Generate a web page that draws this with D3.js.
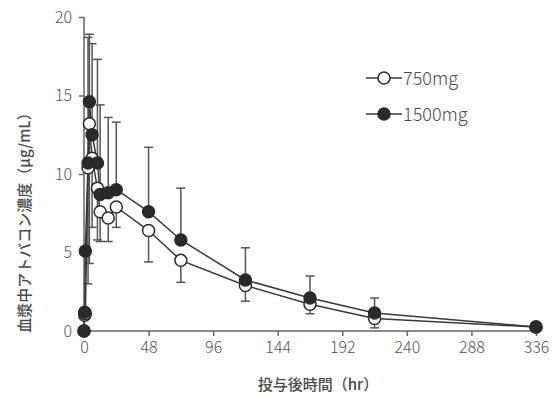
<!DOCTYPE html>
<html>
<head>
<meta charset="utf-8">
<script src="https://cdn.jsdelivr.net/npm/d3@7"></script>
<style>
body { margin: 0; background: #fff; }
text { font-family: "Noto Sans CJK JP", "Noto Sans", sans-serif; fill: #4a4a4a; }
</style>
</head>
<body>
<div class="chart"></div>
<script>
// sampling times (hr) and mean concentrations (µg/mL)
var hours750 = [0, 0.5, 1, 3, 4, 6, 10, 12, 18, 24, 48, 72, 120, 168, 216, 336];
var mean750  = [0, 1.0, 1.1, 10.4, 13.2, 11.0, 9.1, 7.6, 7.2, 7.9, 6.4, 4.5, 2.9, 1.7, 0.8, 0.25];
var sdLow750 = [0, 0.9, 1.0, 3.0, 4.3, 6.6, 5.8, 5.7, 5.7, 6.6, 4.4, 3.1, 1.9, 1.1, 0.2, 0.2];

var hours1500 = [0, 0.5, 1, 3, 4, 6, 10, 12, 18, 24, 48, 72, 120, 168, 216, 336];
var mean1500  = [0, 1.2, 5.1, 10.7, 14.6, 12.5, 10.7, 8.7, 8.8, 9.0, 7.6, 5.8, 3.25, 2.1, 1.15, 0.25];
var sdHigh1500 = [0, 1.3, 5.3, 18.7, 18.9, 18.3, 17.3, 14.4, 13.6, 13.3, 11.7, 9.1, 5.3, 3.5, 2.1, 0.3];

var xTicks = [0, 48, 96, 144, 192, 240, 288, 336];
var yTicks = [0, 5, 10, 15, 20];
var legendLabels = ["750mg", "1500mg"];

var series = [
	{ name: legendLabels[0], t: hours750, y: mean750, err: sdLow750, open: true },
	{ name: legendLabels[1], t: hours1500, y: mean1500, err: sdHigh1500, open: false }
];

var width = 558, height = 398;
var svg = d3.select(".chart").append("svg")
	.attr("width", width)
	.attr("height", height);

var x = d3.scaleLinear().domain([0, 336]).range([84, 536]);
var y = d3.scaleLinear().domain([0, 20]).range([331, 17]);

var lineCol = "#3a3a3a";

// axes
var xAxis = svg.append("g")
	.attr("transform", "translate(0," + y(0) + ")")
	.call(d3.axisBottom(x).tickValues(xTicks).tickSize(5).tickPadding(6));
var yAxis = svg.append("g")
	.attr("transform", "translate(" + x(0) + ",0)")
	.call(d3.axisLeft(y).tickValues(yTicks).tickSize(5).tickPadding(7));

[xAxis, yAxis].forEach(function(a) {
	a.select(".domain").attr("stroke", "#666").attr("stroke-width", 1.5);
	a.selectAll(".tick line").attr("stroke", "#666").attr("stroke-width", 1.5);
	a.selectAll(".tick text").style("font-size", "16px").style("font-weight", 300).style("fill", "#555");
});
yAxis.select(".domain").attr("d", "M0," + y(20) + "V" + y(0));
xAxis.select(".domain").attr("d", "M" + x(0) + ",0H" + x(336));

// axis titles
svg.append("text")
	.attr("x", 318)
	.attr("y", 390)
	.attr("text-anchor", "middle")
	.style("font-size", "15px")
	.style("font-weight", 500)
	.text("投与後時間（hr）");

svg.append("text")
	.attr("transform", "translate(30," + ((y(0) + y(20)) / 2 + 45) + ") rotate(-90)")
	.attr("text-anchor", "middle")
	.style("font-size", "15px")
	.style("font-weight", 500)
	.text("血漿中アトバコン濃度（µg/mL）");

// error bars
series.forEach(function(s) {
	var g = svg.append("g");
	s.t.forEach(function(t, i) {
		if (s.err[i] === s.y[i]) return;
		var cx = x(t);
		g.append("line")
			.attr("x1", cx).attr("x2", cx)
			.attr("y1", y(s.y[i])).attr("y2", y(s.err[i]))
			.attr("stroke", "#555").attr("stroke-width", 1.5);
		g.append("line")
			.attr("x1", cx - 4.5).attr("x2", cx + 4.5)
			.attr("y1", y(s.err[i])).attr("y2", y(s.err[i]))
			.attr("stroke", "#555").attr("stroke-width", 1.5);
	});
});

// lines
var line = d3.line()
	.x(function(d) { return x(d[0]); })
	.y(function(d) { return y(d[1]); });

series.forEach(function(s) {
	svg.append("path")
		.datum(d3.zip(s.t, s.y))
		.attr("d", line)
		.attr("fill", "none")
		.attr("stroke", lineCol)
		.attr("stroke-width", 1.5);
});

// markers
series.forEach(function(s) {
	svg.append("g").selectAll("circle")
		.data(d3.zip(s.t, s.y))
		.enter()
		.append("circle")
		.attr("cx", function(d) { return x(d[0]); })
		.attr("cy", function(d) { return y(d[1]); })
		.attr("r", 6)
		.attr("fill", s.open ? "#fff" : "#2a2a2a")
		.attr("stroke", "#2a2a2a")
		.attr("stroke-width", 1.5);
});

// legend
var legend = svg.append("g").attr("transform", "translate(366,78)");
series.forEach(function(s, i) {
	var ly = i * 36;
	legend.append("line")
		.attr("x1", 0).attr("x2", 36)
		.attr("y1", ly).attr("y2", ly)
		.attr("stroke", lineCol).attr("stroke-width", 1.5);
	legend.append("circle")
		.attr("cx", 18).attr("cy", ly).attr("r", 6)
		.attr("fill", s.open ? "#fff" : "#2a2a2a")
		.attr("stroke", "#2a2a2a").attr("stroke-width", 1.5);
	legend.append("text")
		.attr("x", 37).attr("y", ly + 6.5)
		.style("font-size", "18px")
		.style("font-weight", 300)
		.text(s.name);
});
</script>
</body>
</html>
